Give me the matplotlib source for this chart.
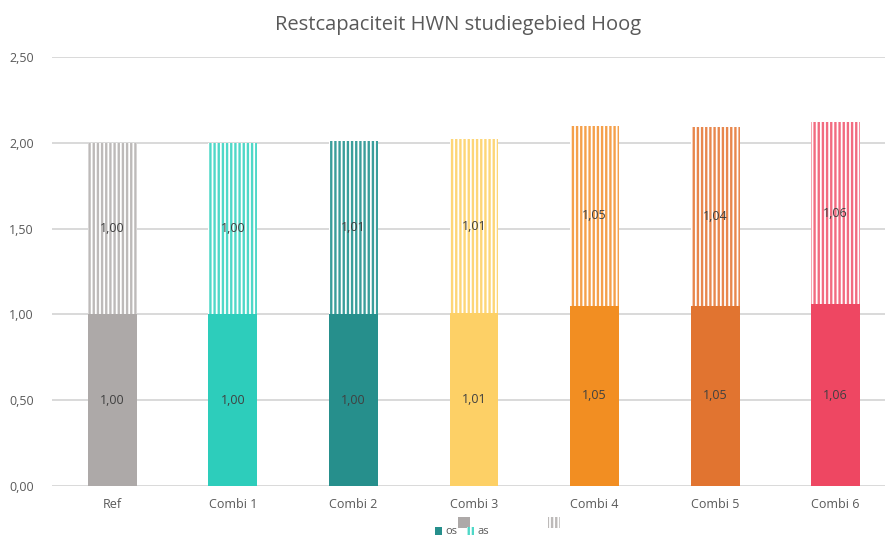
import matplotlib
matplotlib.use("Agg")
import matplotlib.pyplot as plt
from matplotlib.patches import Patch
import numpy as np

categories = ["Ref", "Combi 1", "Combi 2", "Combi 3", "Combi 4", "Combi 5", "Combi 6"]
os_values = [1.00, 1.00, 1.00, 1.01, 1.05, 1.05, 1.06]
as_values = [1.00, 1.00, 1.01, 1.01, 1.05, 1.04, 1.06]
os_labels = ["1,00", "1,00", "1,00", "1,01", "1,05", "1,05", "1,06"]
as_labels = ["1,00", "1,00", "1,01", "1,01", "1,05", "1,04", "1,06"]
yticks = [0, 0.5, 1.0, 1.5, 2.0, 2.5]
ytick_labels = ["0,00", "0,50", "1,00", "1,50", "2,00", "2,50"]
title = "Restcapaciteit HWN studiegebied Hoog"

solid_colors = ["#ADA9A8", "#2DCDBB", "#268F8C", "#FDD066", "#F28E22", "#E17430", "#EE4762"]
hatch_colors = ["#BDBAB9", "#4FD8C8", "#3A9E9B", "#FDD677", "#F5A04A", "#E8874D", "#F26B80"]

plt.rcParams['font.family'] = ['Open Sans', 'DejaVu Sans']
plt.rcParams['hatch.linewidth'] = 1.7

fig = plt.figure(figsize=(8.85, 5.39), dpi=100)
W, H = 885, 539
left_px, right_px = 52, 896
bottom_px, top_px = 486, 57
ax = fig.add_axes([left_px / W, (H - bottom_px) / H, (right_px - left_px) / W, (bottom_px - top_px) / H])

x = np.arange(len(categories))
bw = 0.405
ax.bar(x, os_values, width=bw, color=solid_colors, edgecolor="none", zorder=3)
for i in range(len(categories)):
    ax.bar(x[i], as_values[i], bottom=os_values[i], width=bw, color="white",
           edgecolor=hatch_colors[i], hatch="||||", linewidth=0, zorder=3)

for i in range(len(categories)):
    ax.text(x[i], os_values[i] / 2, os_labels[i], ha="center", va="center",
            fontsize=9, color="#404040", zorder=5)
    ax.text(x[i], os_values[i] + as_values[i] / 2, as_labels[i], ha="center", va="center",
            fontsize=9, color="#404040", zorder=5)

ax.set_xlim(-0.5, len(categories) - 0.5)
ax.set_ylim(0, 2.5)
ax.set_yticks(yticks)
ax.set_yticklabels(ytick_labels)
ax.set_xticks(x)
ax.set_xticklabels(categories)
ax.tick_params(axis="both", length=0, labelsize=9, colors="#595959")
ax.tick_params(axis="y", pad=13)
ax.tick_params(axis="x", pad=9)
ax.grid(axis="y", color="#D9D9D9", linewidth=1.4, zorder=0)
ax.set_axisbelow(True)
for s in ax.spines.values():
    s.set_visible(False)

fig.text(458 / W, 1 - 25 / H, title, ha="center", va="center", fontsize=14.5, color="#595959")

# legend
h1 = [Patch(facecolor="#ADA9A8", edgecolor="none"),
      Patch(facecolor="white", edgecolor="#BDBAB9", hatch="||||", linewidth=0)]
leg1 = fig.legend(h1, ["", ""], loc="center", bbox_to_anchor=(510 / W, 1 - 523 / H),
                  ncol=2, frameon=False, handlelength=1.0, handleheight=1.0,
                  columnspacing=6.0, handletextpad=0.2, fontsize=9)
fig.add_artist(leg1)
h2 = [Patch(facecolor="#268F8C", edgecolor="none"),
      Patch(facecolor="white", edgecolor="#4FD8C8", hatch="||||", linewidth=0)]
fig.legend(h2, ["os", "as"], loc="center", bbox_to_anchor=(462 / W, 1 - 532 / H),
           ncol=2, frameon=False, handlelength=0.7, handleheight=0.7,
           columnspacing=0.8, handletextpad=0.3, fontsize=8, labelcolor="#595959",
           borderpad=0.0)

fig.savefig("out.png", dpi=100)
